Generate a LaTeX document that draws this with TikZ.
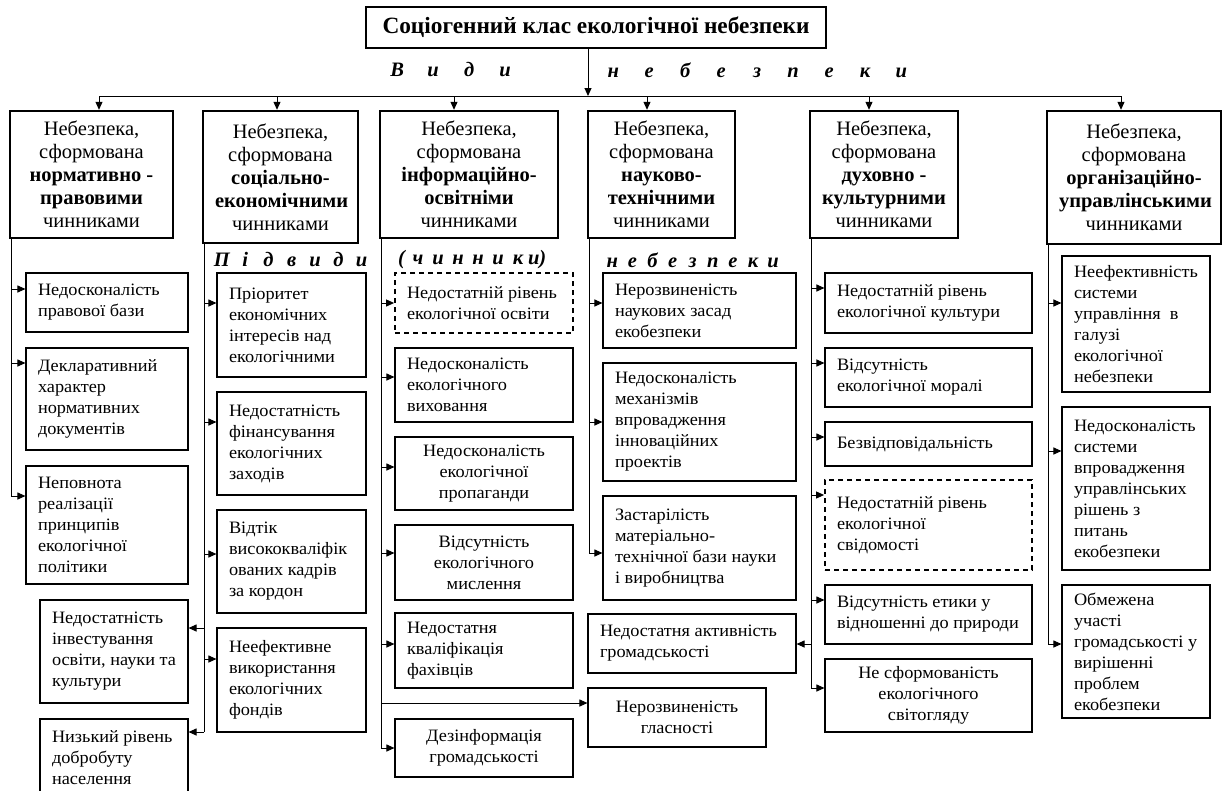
\documentclass[tikz,border=0pt]{standalone}
\usepackage{fontspec}
\setmainfont{Liberation Serif}
\newfontfamily\subfont[FakeStretch=1.05]{Liberation Serif}
\usetikzlibrary{arrows.meta}

\newlength{\lpw}
\newcommand{\lp}[1]{\makebox[\lpw][c]{#1}}
\newcommand{\mybox}[7]{%
 \pgfmathsetmacro{\bw}{#5-#3}%
 \pgfmathsetmacro{\bh}{#6-#4}%
 \pgfmathsetmacro{\tw}{#5-#3-24}%
 \pgfmathsetmacro{\cx}{(#3+#5)/2}%
 \pgfmathsetmacro{\cy}{(#4+#6)/2}%
 \node[#1, minimum width=\bw pt, minimum height=\bh pt, text width=\tw pt] (#2) at (\cx,\cy) {#7};}

\tikzset{
 base/.style={draw, inner xsep=12pt, inner ysep=1pt, font=\subfont\fontsize{17.4}{21}\selectfont, align=flush left, line width=1.1pt},
 subl/.style={base},
 subc/.style={base, align=flush center},
 dsh/.style={base, dash pattern=on 5pt off 4pt, line width=1.8pt},
 cat/.style={draw, line width=2.4pt, inner xsep=12pt, inner ysep=1pt, font=\fontsize{20.5}{23}\selectfont, align=flush center},
 arr/.style={-{Triangle[length=8pt,width=7pt]}, line width=1pt},
 ln/.style={line width=1pt},
 hdr/.style={font=\fontsize{20.5}{22}\selectfont\bfseries\itshape, inner sep=0pt, anchor=west},
}

\begin{document}
\begin{tikzpicture}[x=1pt,y=-1pt]
\useasboundingbox (0,0) rectangle (1223,790);

% title
\node[draw, line width=2.4pt, font=\fontsize{23.3}{26}\selectfont\bfseries, minimum width=460pt, minimum height=41pt, inner sep=0pt] (title) at (596,27.5) {Соціогенний клас екологічної небезпеки};

\node[hdr] (vydy) at (379,70) {\setlength{\lpw}{36pt}\lp{В}\lp{и}\lp{д}\lp{и}};
\node[hdr] (nebez) at (595,70) {\setlength{\lpw}{36pt}\lp{н}\lp{е}\lp{б}\lp{е}\lp{з}\lp{п}\lp{е}\lp{к}\lp{и}};

% category boxes
\mybox{cat}{c1}{10}{111}{173}{238}{Небезпека,\\ сформована\\ \textbf{нормативно -}\\ \textbf{правовими}\\ чинниками}
\mybox{cat}{c2}{203}{111}{358}{243}{Небезпека,\\ сформована\\ \textbf{соціально-}\\ \textbf{економічними}\\ чинниками}
\mybox{cat}{c3}{380}{111}{558}{238}{Небезпека,\\ сформована\\ \textbf{інформаційно-}\\ \textbf{освітніми}\\ чинниками}
\mybox{cat}{c4}{588}{111}{735}{238}{Небезпека,\\ сформована\\ \textbf{науково-}\\ \textbf{технічними}\\ чинниками}
\mybox{cat}{c5}{810}{111}{958}{238}{Небезпека,\\ сформована\\ \textbf{духовно -}\\ \textbf{культурними}\\ чинниками}
\mybox{cat}{c6}{1047}{111}{1221}{244}{Небезпека,\\ сформована\\ \textbf{організаційно-}\\ \textbf{управлінськими}\\ чинниками}

% bus
\coordinate (bus) at (0,96);
\draw[arr] (title.south -| 588,0) -- (bus -| 588,0);
\draw[ln] (bus -| 99,0) -- (bus -| 1121,0);
\draw[arr] (bus -| 99,0) -- (c1.north -| 99,0);
\draw[arr] (bus -| 277,0) -- (c2.north -| 277,0);
\draw[arr] (bus -| 454,0) -- (c3.north -| 454,0);
\draw[arr] (bus -| 647,0) -- (c4.north -| 647,0);
\draw[arr] (bus -| 869,0) -- (c5.north -| 869,0);
\draw[arr] (bus -| 1121,0) -- (c6.north -| 1121,0);

% sub headers
\node[hdr] (pidvydy) at (210,260) {\setlength{\lpw}{23.3pt}\lp{П}\lp{і}\lp{д}\lp{в}\lp{и}\lp{д}\lp{и}};
\node[hdr] (chynnyky) at (398,260) {(\hspace{3pt}\setlength{\lpw}{20pt}\lp{ч}\lp{и}\lp{н}\lp{н}\lp{и}\lp{к}и)};
\node[hdr] (nebez2) at (602,260) {\setlength{\lpw}{20.1pt}\lp{н}\lp{е}\lp{б}\lp{е}\lp{з}\lp{п}\lp{е}\lp{к}\lp{и}};

% column 1
\mybox{subl}{s11}{26}{273}{188}{332}{Недосконалість\\ правової~бази}
\mybox{subl}{s12}{26}{348}{188}{450}{Декларативний\\ характер\\ нормативних\\ документів}
\mybox{subl}{s13}{26}{466}{188}{584}{Неповнота\\ реалізації\\ принципів\\ екологічної\\ політики}

% column 2
\mybox{subl}{s21}{217}{273}{366}{377}{Пріоритет\\ економічних\\ інтересів~над\\ екологічними}
\mybox{subl}{s22}{217}{392}{366}{495}{Недостатність\\ фінансування\\ екологічних\\ заходів}
\mybox{subl}{s23}{217}{510}{366}{613}{Відтік\\ висококваліфік\\ ованих~кадрів\\ за~кордон}
\mybox{subl}{s24}{217}{628}{366}{732}{Неефективне\\ використання\\ екологічних\\ фондів}
\mybox{subl}{s25}{40}{600}{188}{703}{Недостатність\\ інвестування\\ освіти,~науки~та\\ культури}
\mybox{subl}{s26}{40}{719}{188}{797}{Низький~рівень\\ добробуту\\ населення}

% column 3
\mybox{dsh}{d31}{395}{273}{573}{333}{Недостатній~рівень\\ екологічної~освіти}
\mybox{subl}{s32}{395}{348}{573}{422}{Недосконалість\\ екологічного\\ виховання}
\mybox{subc}{s33}{395}{437}{573}{510}{Недосконалість\\ екологічної\\ пропаганди}
\mybox{subc}{s34}{395}{525}{573}{600}{Відсутність\\ екологічного\\ мислення}
\mybox{subl}{s35}{395}{613}{573}{688}{Недостатня\\ кваліфікація\\ фахівців}
\mybox{subc}{s36}{588}{688}{766}{747}{Нерозвиненість\\ гласності}
\mybox{subc}{s37}{395}{719}{573}{777}{Дезінформація\\ громадськості}

% column 4
\mybox{subl}{s41}{603}{273}{796}{348}{Нерозвиненість\\ наукових~засад\\ екобезпеки}
\mybox{subl}{s42}{603}{363}{796}{481}{Недосконалість\\ механізмів\\ впровадження\\ інноваційних\\ проектів}
\mybox{subl}{s43}{603}{496}{796}{600}{Застарілість\\ матеріально-\\ технічної~бази~науки\\ і~виробництва}
\mybox{subl}{s44}{588}{614}{796}{673}{Недостатня~активність\\ громадськості}

% column 5
\mybox{subl}{s51}{825}{273}{1032}{333}{Недостатній~рівень\\ екологічної~культури}
\mybox{subl}{s52}{825}{348}{1032}{407}{Відсутність\\ екологічної~моралі}
\mybox{subl}{s53}{825}{422}{1032}{466}{Безвідповідальність}
\mybox{dsh}{d54}{825}{480}{1032}{570}{Недостатній~рівень\\ екологічної\\ свідомості}
\mybox{subl}{s55}{825}{585}{1032}{644}{Відсутність~етики~у\\ відношенні~до~природи}
\mybox{subc}{s56}{825}{659}{1032}{732}{Не~сформованість\\ екологічного\\ світогляду}

% column 6
\mybox{subl}{s61}{1062}{256}{1210}{392}{Неефективність\\ системи\\ управління~~в\\ галузі\\ екологічної\\ небезпеки}
\mybox{subl}{s62}{1062}{407}{1210}{570}{Недосконалість\\ системи\\ впровадження\\ управлінських\\ рішень~з\\ питань\\ екобезпеки}
\mybox{subl}{s63}{1062}{585}{1210}{718}{Обмежена\\ участі\\ громадськості~у\\ вирішенні\\ проблем\\ екобезпеки}

% trunks
\coordinate (t1) at (c1.south west -| 11,0);
\coordinate (t2) at (c2.south west -| 204,0);
\coordinate (t3) at (c3.south west -| 381,0);
\coordinate (t4) at (c4.south west -| 589,0);
\coordinate (t5) at (c5.south west -| 811,0);
\coordinate (t6) at (c6.south west -| 1048,0);
\draw[ln] (t1) -- (t1 |- 0,496);
\draw[ln] (t2) -- (t2 |- 0,732);
\draw[ln] (t3) -- (t3 |- 0,748);
\draw[ln] (t4) -- (t4 |- 0,553);
\draw[ln] (t5) -- (t5 |- 0,688);
\draw[ln] (t6) -- (t6 |- 0,644);

% arrows col1
\draw[arr] (t1 |- 0,289) -- (s11.west |- 0,289);
\draw[arr] (t1 |- 0,363) -- (s12.west |- 0,363);
\draw[arr] (t1 |- 0,496) -- (s13.west |- 0,496);
% col2
\draw[arr] (t2 |- 0,303) -- (s21.west |- 0,303);
\draw[arr] (t2 |- 0,422) -- (s22.west |- 0,422);
\draw[arr] (t2 |- 0,554) -- (s23.west |- 0,554);
\draw[arr] (t2 |- 0,659) -- (s24.west |- 0,659);
\draw[arr] (t2 |- 0,628) -- (s25.east |- 0,628);
\draw[arr] (t2 |- 0,732) -- (s26.east |- 0,732);
% col3
\draw[arr] (t3 |- 0,303) -- (d31.west |- 0,303);
\draw[arr] (t3 |- 0,377) -- (s32.west |- 0,377);
\draw[arr] (t3 |- 0,467) -- (s33.west |- 0,467);
\draw[arr] (t3 |- 0,553) -- (s34.west |- 0,553);
\draw[arr] (t3 |- 0,644) -- (s35.west |- 0,644);
\draw[arr] (t3 |- 0,703) -- (s36.west |- 0,703);
\draw[arr] (t3 |- 0,748) -- (s37.west |- 0,748);
% col4
\draw[arr] (t4 |- 0,303) -- (s41.west |- 0,303);
\draw[arr] (t4 |- 0,422) -- (s42.west |- 0,422);
\draw[arr] (t4 |- 0,553) -- (s43.west |- 0,553);
% col5
\draw[arr] (t5 |- 0,288) -- (s51.west |- 0,288);
\draw[arr] (t5 |- 0,363) -- (s52.west |- 0,363);
\draw[arr] (t5 |- 0,437) -- (s53.west |- 0,437);
\draw[arr] (t5 |- 0,495) -- (d54.west |- 0,495);
\draw[arr] (t5 |- 0,600) -- (s55.west |- 0,600);
\draw[arr] (t5 |- 0,644) -- (s44.east |- 0,644);
\draw[arr] (t5 |- 0,688) -- (s56.west |- 0,688);
% col6
\draw[arr] (t6 |- 0,303) -- (s61.west |- 0,303);
\draw[arr] (t6 |- 0,451) -- (s62.west |- 0,451);
\draw[arr] (t6 |- 0,644) -- (s63.west |- 0,644);
\end{tikzpicture}
\end{document}
